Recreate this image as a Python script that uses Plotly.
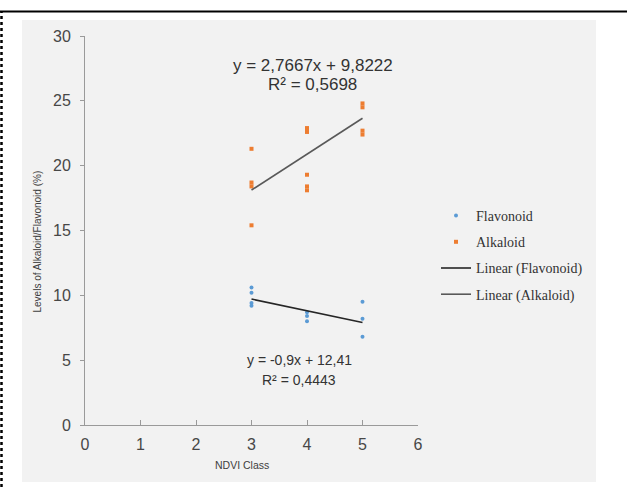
import plotly.graph_objects as go

# ---- data ----
flav_x = [3, 3, 3, 3, 4, 4, 4, 5, 5, 5]
flav_y = [10.6, 10.2, 9.4, 9.2, 8.7, 8.4, 8.0, 9.5, 8.2, 6.8]
alk_x = [3, 3, 3, 3, 4, 4, 4, 4, 4, 5, 5, 5, 5]
alk_y = [21.3, 18.7, 18.4, 15.4, 22.9, 22.6, 19.3, 18.4, 18.1, 24.8, 24.5, 22.7, 22.4]
trend_x = [3, 5]
flav_trend_y = [9.71, 7.91]
alk_trend_y = [18.12, 23.66]
eq_alk = ["y = 2,7667x + 9,8222", "R² = 0,5698"]
eq_flav = ["y = -0,9x + 12,41", "R² = 0,4443"]
x_ticks = [0, 1, 2, 3, 4, 5, 6]
y_ticks = [0, 5, 10, 15, 20, 25, 30]

W, H = 627, 487
L, R, T, B = 85, 418, 36, 425  # plot area pixel bounds


def px(x):
    return (x - L) / (R - L)


def py(y):
    return (B - y) / (B - T)


fig = go.Figure()
fig.add_trace(go.Scatter(x=flav_x, y=flav_y, mode="markers", name="Flavonoid",
                         legendgroup="a",
                         marker=dict(symbol="circle", size=4, color="#5b9bd5")))
fig.add_trace(go.Scatter(x=alk_x, y=alk_y, mode="markers", name="Alkaloid",
                         legendgroup="b",
                         marker=dict(symbol="square", size=4, color="#ed7d31")))
fig.add_trace(go.Scatter(x=trend_x, y=flav_trend_y, mode="lines", name="Linear (Flavonoid)",
                         legendgroup="c",
                         line=dict(color="#262626", width=1.6)))
fig.add_trace(go.Scatter(x=trend_x, y=alk_trend_y, mode="lines", name="Linear (Alkaloid)",
                         legendgroup="d",
                         line=dict(color="#595959", width=1.6)))

shapes = [
    dict(type="rect", xref="paper", yref="paper", x0=px(22), x1=px(596), y0=py(482), y1=py(20),
         fillcolor="#f2f2f2", line=dict(width=0), layer="below"),
    dict(type="line", xref="paper", yref="paper", x0=px(0), x1=px(627), y0=py(11.5), y1=py(11.5),
         line=dict(color="black", width=2)),
    dict(type="line", xref="paper", yref="paper", x0=px(1.5), x1=px(1.5), y0=py(487), y1=py(11.5),
         line=dict(color="black", width=2.5, dash="dot")),
]

ann_font_big = dict(family="Liberation Sans, Arial", size=17, color="#333333")
ann_font = dict(family="Liberation Sans, Arial", size=14, color="#333333")
annotations = [
    dict(x=4.108, y=27.76, xref="x", yref="y", text=eq_alk[0], showarrow=False, font=ann_font_big),
    dict(x=4.108, y=26.29, xref="x", yref="y", text=eq_alk[1], showarrow=False, font=ann_font_big),
    dict(x=3.856, y=5.01, xref="x", yref="y", text=eq_flav[0], showarrow=False, font=ann_font),
    dict(x=3.856, y=3.47, xref="x", yref="y", text=eq_flav[1], showarrow=False, font=ann_font),
    dict(x=px(29), y=py(242), xref="paper", yref="paper", text="Levels of Alkaloid/Flavonoid (%)",
         textangle=-90, showarrow=False,
         font=dict(family="Liberation Sans, Arial", size=10, color="#404040")),
    dict(x=px(242), y=py(473), xref="paper", yref="paper", text="NDVI Class", showarrow=False,
         font=dict(family="Liberation Sans, Arial", size=10.5, color="#404040")),
]

tick_font = dict(family="Liberation Sans Narrow, Arial Narrow, Liberation Sans", size=16, color="#474747")

fig.update_layout(
    width=W, height=H, autosize=False,
    margin=dict(l=L, r=W - R, t=T, b=H - B, pad=0),
    paper_bgcolor="white", plot_bgcolor="rgba(0,0,0,0)",
    shapes=shapes, annotations=annotations,
    showlegend=True,
    legend=dict(x=px(436), y=py(200), xanchor="left", yanchor="top",
                bgcolor="rgba(0,0,0,0)", tracegroupgap=5,
                font=dict(family="Liberation Serif, Times New Roman, serif", size=14, color="#333333")),
    xaxis=dict(range=[0, 6], tickvals=x_ticks, showgrid=False, zeroline=False,
               showline=True, linecolor="#9a9a9a", linewidth=1,
               ticks="inside", ticklen=5, tickcolor="#9a9a9a",
               tickfont=tick_font, ticklabelstandoff=5),
    yaxis=dict(range=[0, 30], tickvals=y_ticks, showgrid=False, zeroline=False,
               showline=True, linecolor="#9a9a9a", linewidth=1,
               ticks="outside", ticklen=4, tickcolor="#9a9a9a",
               tickfont=tick_font, ticklabelstandoff=6),
)

fig.write_html("out.html", config={"displayModeBar": False},
               post_script="document.body.style.margin='0';document.body.style.padding='0';")
